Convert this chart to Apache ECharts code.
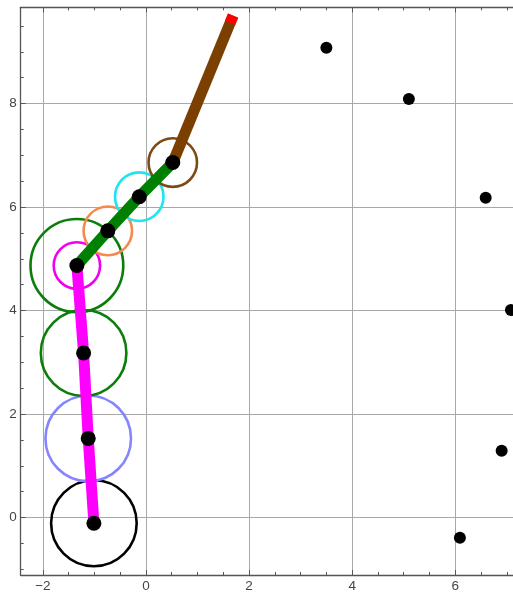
<!DOCTYPE html>
<html>
<head>
<meta charset="utf-8">
<script src="https://cdn.jsdelivr.net/npm/echarts@6/dist/echarts.min.js"></script>
<style>
  html, body { margin: 0; padding: 0; background: #ffffff; }
  #chart { width: 513px; height: 593px; }
</style>
</head>
<body>
<div id="chart"></div>
<script>
// Arm joints, from the base upward
const jointX = [-1.01, -1.12, -1.21, -1.34, -0.74, -0.13, 0.52];
const jointY = [-0.11, 1.53, 3.18, 4.87, 5.54, 6.20, 6.86];

// Tip of the last link
const tipX = [1.69];
const tipY = [9.70];

// Rings drawn around joints (centre index into the joint arrays, radius in axis units)
const ringJoint  = [0, 1, 2, 3, 3, 4, 5, 6];
const ringRadius = [0.83, 0.83, 0.83, 0.90, 0.45, 0.47, 0.47, 0.47];

// Free target points
const targetX = [3.50, 5.10, 6.59, 7.08, 6.90, 6.09];
const targetY = [9.08, 8.09, 6.18, 4.01, 1.29, -0.39];

// Axis ticks
const xMajorTicks = [-2, 0, 2, 4, 6];
const yMajorTicks = [0, 2, 4, 6, 8];
const xRange = [-2.43, 7.12];
const yRange = [-1.11, 9.86];

// ---- styling ----
const ringColors = ['#000000', '#8585ff', '#0b7d0b', '#0b7d0b', '#f000f0', '#f68a4e', '#22e4ee', '#7d4a12'];
const lowerColor = '#ff00ff';
const middleColor = '#008000';
const upperColor = '#7b3f00';
const tipColor = '#ff0000';
const frameColor = '#555555';
const gridColor = '#a8a8a8';
const textColor = '#444444';

function halfSteps(range) {
  const out = [];
  for (let v = Math.ceil(range[0] * 2) / 2; v <= range[1]; v += 0.5) {
    if (Math.abs(v / 2 - Math.round(v / 2)) > 1e-9) out.push(v);
  }
  return out;
}
const xMinorTicks = halfSteps(xRange);
const yMinorTicks = halfSteps(yRange);

const pts = (xs, ys) => xs.map((x, i) => [x, ys[i]]);
const joints = pts(jointX, jointY);
const lowerLink = joints.slice(0, 4);
const middleLink = joints.slice(3, 7);
const upperLink = [joints[6], [tipX[0], tipY[0]]];
const rings = ringJoint.map((j, i) => [jointX[j], jointY[j], ringRadius[i], i]);

const fmt = v => String(v).replace('-', '\u2212');

function axisPair(pos, range, major, minor, withLabels) {
  const base = {
    type: 'value', min: range[0], max: range[1], position: pos,
    axisLine: { show: true, onZero: false, lineStyle: { color: frameColor, width: 1.3 } },
    axisTick: { show: true, inside: true, length: 5, customValues: major, lineStyle: { color: frameColor, width: 1 } },
    axisLabel: withLabels
      ? { show: true, customValues: major, formatter: fmt, color: textColor, fontSize: 13.5,
          fontFamily: 'Liberation Sans, Arial, sans-serif', margin: 4 }
      : { show: false },
    splitLine: { show: withLabels, lineStyle: { color: gridColor, width: 1 } },
    minorTick: { show: false }, minorSplitLine: { show: false }
  };
  const minorAxis = {
    type: 'value', min: range[0], max: range[1], position: pos,
    axisLine: { show: false, onZero: false },
    axisTick: { show: true, inside: true, length: 3, customValues: minor, lineStyle: { color: frameColor, width: 1 } },
    axisLabel: { show: false },
    splitLine: { show: false }
  };
  return [base, minorAxis];
}

const chart = echarts.init(document.getElementById('chart'), null, { renderer: 'canvas' });

chart.setOption({
  animation: false,
  backgroundColor: '#ffffff',
  grid: { left: 20.7, right: 0, top: 7.3, bottom: 17, containLabel: false },
  xAxis: [
    ...axisPair('bottom', xRange, xMajorTicks, xMinorTicks, true),
    ...axisPair('top', xRange, xMajorTicks, xMinorTicks, false)
  ],
  yAxis: [
    ...axisPair('left', yRange, yMajorTicks, yMinorTicks, true)
  ],
  series: [
    {
      name: 'rings', type: 'custom', z: 1, clip: false,
      data: rings,
      renderItem(params, api) {
        const c = api.coord([api.value(0), api.value(1)]);
        const s = api.size([api.value(2), api.value(2)]);
        return {
          type: 'ellipse',
          shape: { cx: c[0], cy: c[1], rx: s[0], ry: s[1] },
          style: { fill: null, stroke: ringColors[api.value(3)], lineWidth: 2.6 }
        };
      }
    },
    {
      name: 'lower link', type: 'line', z: 2, data: lowerLink, symbol: 'none',
      lineStyle: { color: lowerColor, width: 11, cap: 'butt', join: 'round' }
    },
    {
      name: 'middle link', type: 'line', z: 2, data: middleLink, symbol: 'none',
      lineStyle: { color: middleColor, width: 11, cap: 'butt', join: 'round' }
    },
    {
      name: 'upper link', type: 'line', z: 2, data: upperLink, symbol: 'none',
      lineStyle: { color: upperColor, width: 11, cap: 'butt' }
    },
    {
      // red marker on the end of the upper link, aligned with it
      name: 'tip', type: 'custom', z: 3, clip: false,
      data: [[upperLink[0][0], upperLink[0][1], upperLink[1][0], upperLink[1][1]]],
      renderItem(params, api) {
        const a = api.coord([api.value(0), api.value(1)]);
        const b = api.coord([api.value(2), api.value(3)]);
        const dx = b[0] - a[0], dy = b[1] - a[1];
        const len = Math.hypot(dx, dy);
        const k = 8 / len;
        return {
          type: 'line',
          shape: { x1: b[0] - dx * k, y1: b[1] - dy * k, x2: b[0], y2: b[1] },
          style: { stroke: tipColor, lineWidth: 11, lineCap: 'butt' }
        };
      }
    },
    {
      name: 'joints', type: 'scatter', z: 4, data: joints,
      symbol: 'circle', symbolSize: 15, itemStyle: { color: '#000000', opacity: 1 }
    },
    {
      name: 'targets', type: 'scatter', z: 4, data: pts(targetX, targetY), clip: false,
      symbol: 'circle', symbolSize: 12, itemStyle: { color: '#000000', opacity: 1 }
    }
  ]
});
</script>
</body>
</html>
